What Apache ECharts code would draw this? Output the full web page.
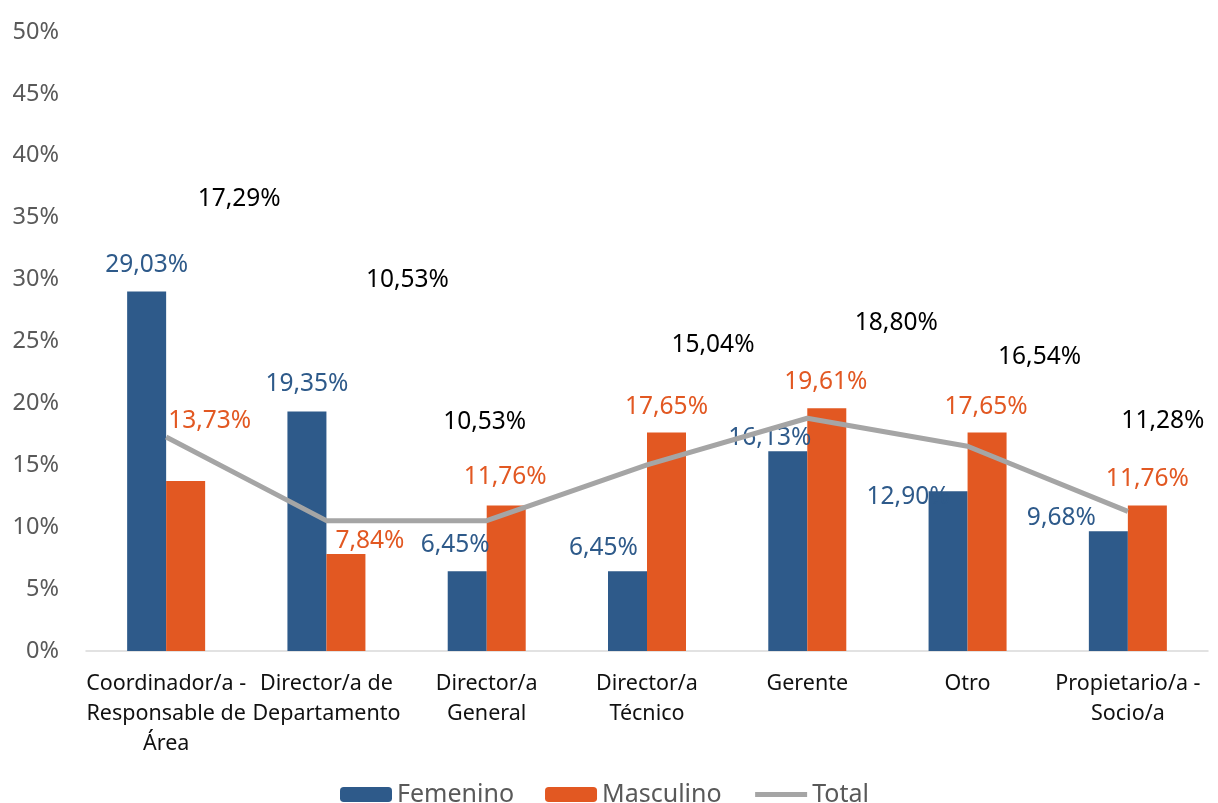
<!DOCTYPE html>
<html>
<head>
<meta charset="utf-8">
<script src="https://cdn.jsdelivr.net/npm/echarts@6/dist/echarts.min.js"></script>
<style>
html, body { margin: 0; padding: 0; background: #fff; }
#chart { width: 1218px; height: 803px; }
</style>
</head>
<body>
<div id="chart"></div>
<script>
var categories = ['Coordinador/a -\nResponsable de\nÁrea', 'Director/a de\nDepartamento', 'Director/a\nGeneral',
	'Director/a\nTécnico', 'Gerente', 'Otro', 'Propietario/a -\nSocio/a'];
var femenino = [29.03, 19.35, 6.45, 6.45, 16.13, 12.90, 9.68];
var masculino = [13.73, 7.84, 11.76, 17.65, 19.61, 17.65, 11.76];
var total = [17.29, 10.53, 10.53, 15.04, 18.80, 16.54, 11.28];

// label offsets, moved by hand in the original
var femOffsets = [[0, -14], [0, -14], [-12, -13], [-24, -10], [-18, 0], [-40, 19], [-47, 0]];
var mascOffsets = [[24, -47], [24, 0], [-1, -15], [0, -12], [-1, -13], [-1, -12], [0, -13]];
var totalOffsets = [[73, -225], [81, -228], [-2, -86], [66, -107], [89, -82], [72, -76], [35, -77]];

var FONT = '"Noto Sans", sans-serif';

function pct(v) {
	return v.toFixed(2).replace('.', ',') + '%';
}

function withLabels(values, offsets) {
	return values.map(function(v, i) {
		return { value: v, label: { offset: offsets[i] } };
	});
}

function labelStyle(color) {
	return {
		show: true,
		position: 'top',
		distance: 0,
		color: color,
		fontFamily: FONT,
		fontSize: 24.5,
		lineHeight: 26,
		formatter: function(p) { return pct(p.value); }
	};
}

var chart = echarts.init(document.getElementById('chart'));
chart.setOption({
	animation: false,
	grid: { left: 86, right: 10, top: 32, bottom: 152, containLabel: false },
	legend: {
		top: 777,
		left: 335,
		itemWidth: 52,
		itemHeight: 15,
		itemGap: 31,
		textStyle: { color: '#595959', fontFamily: FONT, fontSize: 25 },
		data: [
			{ name: 'Femenino' },
			{ name: 'Masculino' },
			{ name: 'Total', itemStyle: { opacity: 0 }, lineStyle: { width: 5, color: '#A5A5A5' } }
		]
	},
	xAxis: {
		type: 'category',
		data: categories,
		axisLine: { lineStyle: { color: '#D9D9D9', width: 1.5 } },
		axisTick: { show: false },
		axisLabel: {
			interval: 0,
			margin: 18,
			color: '#111',
			fontFamily: FONT,
			fontSize: 21.5,
			lineHeight: 30
		}
	},
	yAxis: {
		type: 'value',
		min: 0,
		max: 50,
		interval: 5,
		axisLine: { show: false },
		axisTick: { show: false },
		splitLine: { show: false },
		axisLabel: {
			color: '#595959',
			fontFamily: FONT,
			fontSize: 23.5,
			margin: 27,
			formatter: function(v) { return v + '%'; }
		}
	},
	series: [
		{
			name: 'Femenino',
			type: 'bar',
			barWidth: 39,
			barGap: '0%',
			itemStyle: { color: '#2E5A8A' },
			label: labelStyle('#2E5A8A'),
			data: withLabels(femenino, femOffsets)
		},
		{
			name: 'Masculino',
			type: 'bar',
			barWidth: 39,
			barGap: '0%',
			itemStyle: { color: '#E25822' },
			label: labelStyle('#E25822'),
			data: withLabels(masculino, mascOffsets)
		},
		{
			name: 'Total',
			type: 'line',
			symbol: 'circle',
			symbolSize: 0,
			lineStyle: { color: '#A5A5A5', width: 5 },
			itemStyle: { color: '#A5A5A5' },
			label: labelStyle('#000'),
			data: withLabels(total, totalOffsets)
		}
	]
});
</script>
</body>
</html>
